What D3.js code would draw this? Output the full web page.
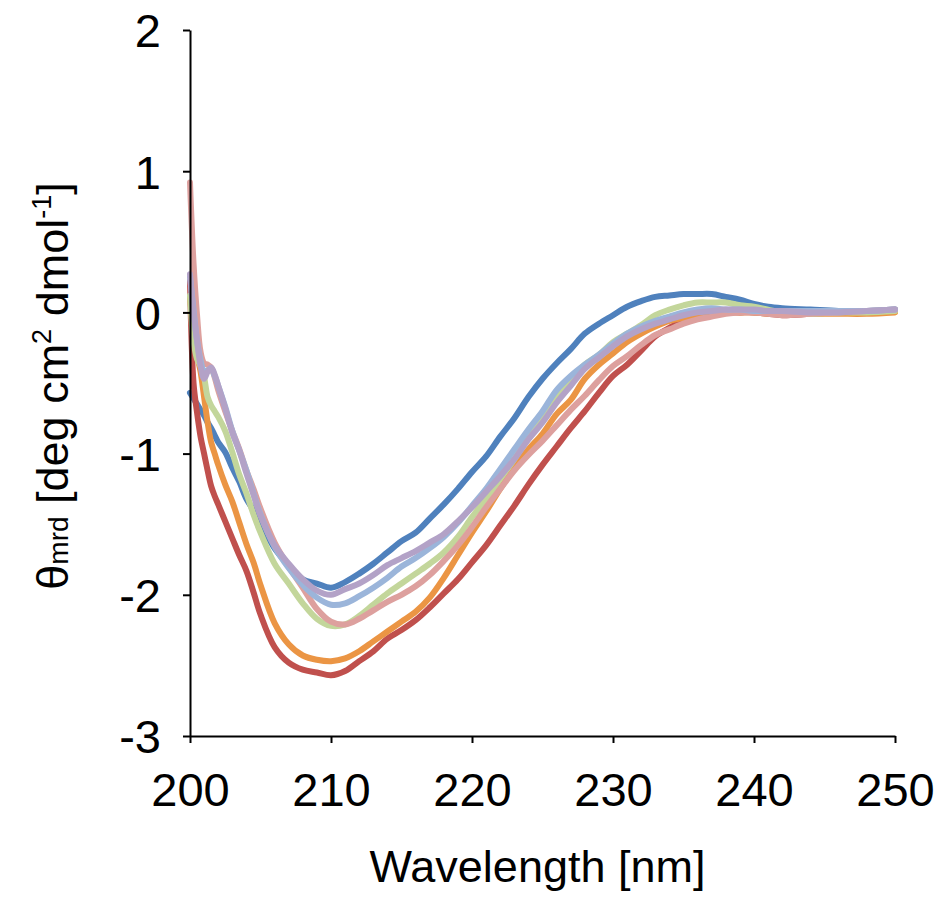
<!DOCTYPE html>
<html>
<head>
<meta charset="utf-8">
<script src="https://cdn.jsdelivr.net/npm/d3@7"></script>
<style>
  html, body { margin: 0; padding: 0; background: #fff; }
  svg text { font-family: "Liberation Sans", Arial, Helvetica, sans-serif; fill: #000; }
</style>
</head>
<body>
<svg id="chart" width="949" height="905"></svg>
<script>
const wavelength = [200, 200.25, 200.5, 200.75, 201, 201.25, 201.5, 201.75, 202, 202.5, 203, 203.5, 204, 204.5, 205,
  206, 207, 208, 209, 210, 211, 212, 213, 214, 215, 216, 217, 218, 219, 220, 221, 222, 223, 224, 225,
  226, 227, 228, 229, 230, 231, 232, 233, 234, 235, 236, 237, 238, 239, 240, 241, 242, 244, 246, 248, 250];

const seriesBlue = [-0.57, -0.61, -0.65, -0.69, -0.73, -0.78, -0.82, -0.87, -0.92, -0.99, -1.10, -1.20, -1.32, -1.40, -1.49,
  -1.67, -1.79, -1.89, -1.92, -1.95, -1.91, -1.85, -1.78, -1.70, -1.62, -1.56, -1.46, -1.36, -1.25, -1.13,
  -1.02, -0.88, -0.75, -0.60, -0.47, -0.36, -0.26, -0.15, -0.08, -0.02, 0.04, 0.08, 0.11, 0.12, 0.13,
  0.13, 0.13, 0.11, 0.09, 0.06, 0.04, 0.03, 0.02, 0.01, 0.01, 0.02];
const seriesRed = [0.22, -0.50, -0.71, -0.88, -1.00, -1.12, -1.23, -1.30, -1.36, -1.48, -1.60, -1.72, -1.83, -1.98, -2.14,
  -2.37, -2.48, -2.53, -2.55, -2.57, -2.54, -2.47, -2.40, -2.31, -2.25, -2.18, -2.09, -1.99, -1.89, -1.77,
  -1.65, -1.51, -1.37, -1.22, -1.08, -0.95, -0.82, -0.70, -0.57, -0.45, -0.37, -0.27, -0.17, -0.11, -0.06,
  -0.04, -0.01, 0.0, 0.0, 0.0, -0.01, -0.02, -0.01, 0.0, 0.0, 0.01];
const seriesOrange = [0.10, -0.12, -0.30, -0.42, -0.60, -0.78, -0.92, -1.00, -1.08, -1.22, -1.34, -1.49, -1.64, -1.77, -1.93,
  -2.20, -2.35, -2.43, -2.46, -2.47, -2.45, -2.40, -2.33, -2.26, -2.19, -2.12, -2.02, -1.88, -1.72, -1.56,
  -1.41, -1.25, -1.10, -0.97, -0.86, -0.72, -0.62, -0.47, -0.37, -0.29, -0.21, -0.15, -0.10, -0.06, -0.04,
  -0.02, -0.01, 0.0, 0.0, 0.0, -0.01, -0.01, -0.01, -0.01, -0.01, 0.0];
const seriesGreen = [0.12, -0.20, -0.33, -0.38, -0.46, -0.60, -0.66, -0.70, -0.74, -0.84, -0.99, -1.15, -1.28, -1.43, -1.56,
  -1.78, -1.92, -2.06, -2.17, -2.22, -2.21, -2.15, -2.07, -1.99, -1.92, -1.85, -1.78, -1.70, -1.59, -1.45,
  -1.32, -1.18, -1.04, -0.88, -0.74, -0.58, -0.47, -0.37, -0.30, -0.21, -0.15, -0.09, -0.02, 0.02, 0.05,
  0.07, 0.07, 0.07, 0.05, 0.04, 0.02, 0.0, -0.01, 0.0, 0.0, 0.01];
const seriesPink = [0.92, 0.35, -0.02, -0.28, -0.36, -0.37, -0.39, -0.46, -0.55, -0.70, -0.84, -0.97, -1.12, -1.25, -1.39,
  -1.63, -1.80, -1.95, -2.10, -2.19, -2.21, -2.17, -2.11, -2.05, -2.00, -1.94, -1.86, -1.76, -1.65, -1.52,
  -1.38, -1.25, -1.12, -1.01, -0.91, -0.80, -0.69, -0.59, -0.48, -0.38, -0.31, -0.23, -0.16, -0.12, -0.08,
  -0.05, -0.03, -0.01, 0.0, 0.0, -0.01, -0.02, -0.01, 0.0, 0.01, 0.02];
const seriesLightBlue = [0.25, 0.02, -0.20, -0.34, -0.42, -0.41, -0.40, -0.45, -0.52, -0.67, -0.84, -0.98, -1.12, -1.28, -1.43,
  -1.66, -1.81, -1.93, -2.02, -2.07, -2.06, -2.01, -1.95, -1.88, -1.80, -1.74, -1.67, -1.59, -1.49, -1.37,
  -1.25, -1.11, -0.97, -0.83, -0.70, -0.55, -0.45, -0.37, -0.30, -0.22, -0.15, -0.10, -0.06, -0.03, 0.0,
  0.02, 0.03, 0.02, 0.02, 0.01, 0.01, 0.01, 0.01, 0.01, 0.01, 0.02];
const seriesPurple = [0.27, 0.0, -0.20, -0.38, -0.47, -0.42, -0.39, -0.44, -0.52, -0.68, -0.85, -0.98, -1.14, -1.29, -1.44,
  -1.65, -1.78, -1.89, -1.97, -2.00, -1.96, -1.92, -1.86, -1.79, -1.74, -1.69, -1.63, -1.57, -1.48, -1.38,
  -1.27, -1.16, -1.04, -0.90, -0.78, -0.64, -0.52, -0.40, -0.32, -0.24, -0.17, -0.12, -0.08, -0.05, -0.02,
  0.0, 0.01, 0.02, 0.02, 0.02, 0.01, 0.01, 0.0, 0.0, 0.01, 0.02];

const seriesNames = ["blue", "red", "orange", "green", "pink", "lightblue", "purple"];
const seriesColors = ["#4F81BD", "#C0504D", "#EB9544", "#C3D69B", "#DDA09E", "#9BB5DA", "#B3A2C7"];
const seriesValues = [seriesBlue, seriesRed, seriesOrange, seriesGreen, seriesPink, seriesLightBlue, seriesPurple];

const xTicks = [200, 210, 220, 230, 240, 250];
const yTicks = [-3, -2, -1, 0, 1, 2];

const svg = d3.select("#chart");
const margin = { left: 190, right: 54, top: 30, bottom: 169 };
const W = 949, H = 905;

const x = d3.scaleLinear().domain([200, 250]).range([margin.left, W - margin.right]);
const y = d3.scaleLinear().domain([-3, 2]).range([H - margin.bottom, margin.top]);

// lines
const line = d3.line()
  .x(d => x(d[0]))
  .y(d => y(d[1]))
  .curve(d3.curveCatmullRom.alpha(0.5));

const gLines = svg.append("g");
seriesValues.forEach((vals, i) => {
  const pts = wavelength.map((w, k) => [w, vals[k]]);
  gLines.append("path")
    .datum(pts)
    .attr("d", line)
    .attr("fill", "none")
    .attr("stroke", seriesColors[i])
    .attr("stroke-width", 6)
    .attr("stroke-linejoin", "round")
    .attr("stroke-linecap", "round");
});

// axes
const xAxis = d3.axisBottom(x).tickValues(xTicks).tickSize(7).tickSizeOuter(0).tickPadding(30);
const yAxis = d3.axisLeft(y).tickValues(yTicks).tickSize(7).tickSizeOuter(0).tickPadding(22)
  .tickFormat(d => String(d));

const gx = svg.append("g").attr("transform", `translate(0,${y(-3)})`).call(xAxis);
const gy = svg.append("g").attr("transform", `translate(${x(200)},0)`).call(yAxis);

[gx, gy].forEach(g => {
  g.select(".domain").attr("stroke", "#000").attr("stroke-width", 2);
  g.selectAll(".tick line").attr("stroke", "#000").attr("stroke-width", 2);
  g.selectAll(".tick text").style("font-size", "47px").attr("fill", "#000");
});
gx.selectAll(".tick text").attr("dy", "0.71em");
gy.selectAll(".tick text").attr("dy", "0.36em");

// x title
svg.append("text")
  .attr("x", (x(200) + x(250)) / 2 - 5)
  .attr("y", 882)
  .attr("text-anchor", "middle")
  .style("font-size", "45px")
  .text("Wavelength [nm]");

// y title
const yt = svg.append("text")
  .attr("transform", `translate(68,${(y(-3) + y(2)) / 2 + 3}) rotate(-90)`)
  .attr("text-anchor", "middle")
  .style("font-size", "45px");
yt.append("tspan").text("θ");
yt.append("tspan").style("font-size", "28px").text("mrd");
yt.append("tspan").text(" [deg cm");
yt.append("tspan").attr("dy", -17).style("font-size", "27px").text("2");
yt.append("tspan").attr("dy", 17).text(" dmol");
yt.append("tspan").attr("dy", -17).style("font-size", "27px").text("-1");
yt.append("tspan").attr("dy", 17).text("]");
</script>
</body>
</html>
